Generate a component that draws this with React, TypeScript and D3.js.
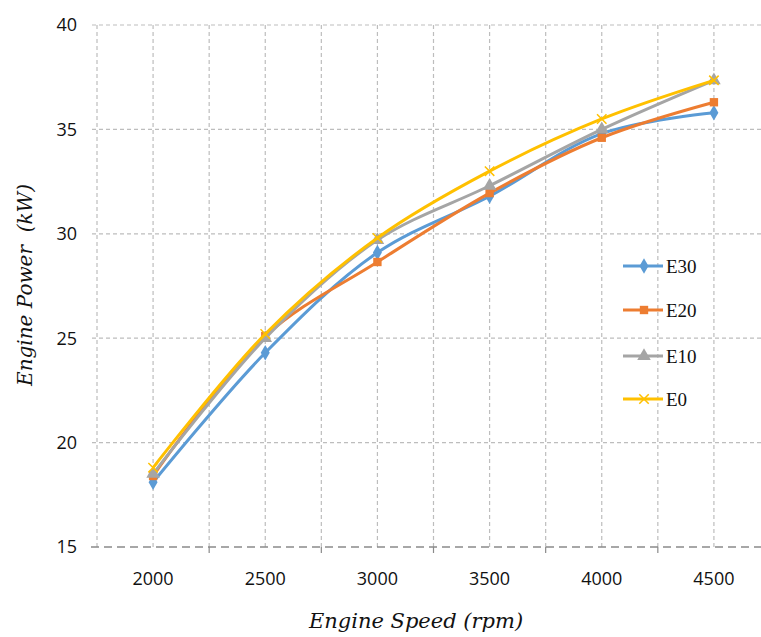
import React, { useEffect, useRef } from 'react'
import * as d3 from 'd3'

// engine speed categories (rpm)
const speeds = ['2000', '2500', '3000', '3500', '4000', '4500']
const yTicks = [15, 20, 25, 30, 35, 40]

// engine power (kW) per fuel blend
const e30 = [18.1, 24.3, 29.1, 31.8, 34.8, 35.8]
const e20 = [18.4, 25.1, 28.65, 31.95, 34.6, 36.3]
const e10 = [18.5, 25.0, 29.7, 32.3, 35.0, 37.35]
const e0 = [18.8, 25.2, 29.8, 33.0, 35.5, 37.35]

const seriesNames = ['E30', 'E20', 'E10', 'E0']
const seriesValues = [e30, e20, e10, e0]
const colors = ['#5B9BD5', '#ED7D31', '#A5A5A5', '#FFC000']
const shapes = [d3.symbolDiamond, d3.symbolSquare, d3.symbolTriangle, d3.symbolTimes]

export default function App() {
  const ref = useRef<SVGSVGElement>(null)

  useEffect(() => {
    const W = 761, H = 637
    const left = 97, right = 770, top = 25, bottom = 547
    const svg = d3.select(ref.current)
    svg.selectAll('*').remove()
    svg.attr('width', W).attr('height', H)

    const x = d3.scaleBand().domain(speeds).range([left, right]).padding(0)
    const bw = x.bandwidth()
    const cx = (s: string) => (x(s) as number) + bw / 2
    const y = d3.scaleLinear().domain([15, 40]).range([bottom, top])

    svg.append('rect').attr('width', W).attr('height', H).attr('fill', '#fff')

    // vertical grid: band edges and band centers
    const vx: number[] = []
    speeds.forEach(s => { vx.push(x(s) as number); vx.push(cx(s)) })
    svg.append('g').selectAll('line').data(vx).enter().append('line')
      .attr('x1', d => d).attr('x2', d => d)
      .attr('y1', top).attr('y2', bottom)
      .attr('stroke', '#bdbdbd').attr('stroke-width', 1.2)
      .attr('stroke-dasharray', '4,3')

    // horizontal grid
    svg.append('g').selectAll('line').data(yTicks.filter(t => t > 15)).enter().append('line')
      .attr('x1', left - 5).attr('x2', W)
      .attr('y1', d => y(d)).attr('y2', d => y(d))
      .attr('stroke', '#bdbdbd').attr('stroke-width', 1.2)
      .attr('stroke-dasharray', '4,3')

    // bottom axis line
    svg.append('line')
      .attr('x1', left - 6).attr('x2', W)
      .attr('y1', bottom).attr('y2', bottom)
      .attr('stroke', '#8a8a8a').attr('stroke-width', 1.6)
      .attr('stroke-dasharray', '8,5')
    svg.append('g').selectAll('line').data(speeds.slice(1)).enter().append('line')
      .attr('x1', d => x(d) as number).attr('x2', d => x(d) as number)
      .attr('y1', bottom).attr('y2', bottom + 6)
      .attr('stroke', '#8a8a8a').attr('stroke-width', 1.2)

    // tick labels
    svg.append('g').selectAll('text').data(yTicks).enter().append('text')
      .attr('x', 77).attr('y', d => y(d)).attr('dy', '0.35em')
      .attr('text-anchor', 'end')
      .attr('font-family', '"Open Sans", sans-serif').attr('font-size', 18)
      .attr('fill', '#111')
      .text(d => d)
    svg.append('g').selectAll('text').data(speeds).enter().append('text')
      .attr('x', d => cx(d)).attr('y', 585)
      .attr('text-anchor', 'middle')
      .attr('font-family', '"Open Sans", sans-serif').attr('font-size', 18)
      .attr('fill', '#111')
      .text(d => d)

    // axis titles
    svg.append('text')
      .attr('x', 416).attr('y', 628).attr('text-anchor', 'middle')
      .attr('font-family', '"DejaVu Serif", serif').attr('font-style', 'italic')
      .attr('font-size', 21).attr('fill', '#111')
      .text('Engine Speed (rpm)')
    svg.append('text')
      .attr('transform', 'translate(32,285) rotate(-90)').attr('text-anchor', 'middle')
      .attr('font-family', '"DejaVu Serif", serif').attr('font-style', 'italic')
      .attr('font-size', 20).attr('fill', '#111')
      .style('white-space', 'pre')
      .text('Engine Power  (kW)')

    const line = d3.line<number>()
      .x((_, i) => cx(speeds[i]))
      .y(d => y(d))
      .curve(d3.curveCatmullRom.alpha(0.5))

    const sym = (i: number) => d3.symbol().type(shapes[i]).size(i === 3 ? 60 : i === 2 ? 80 : 70)()

    seriesValues.forEach((vals, i) => {
      const g = svg.append('g')
      g.append('path').attr('d', line(vals))
        .attr('fill', 'none').attr('stroke', colors[i]).attr('stroke-width', 3)
      g.selectAll('path.m').data(vals).enter().append('path')
        .attr('class', 'm')
        .attr('transform', (d, j) => `translate(${cx(speeds[j])},${y(d)})`)
        .attr('d', sym(i))
        .attr('fill', i === 3 ? 'none' : colors[i])
        .attr('stroke', colors[i]).attr('stroke-width', i === 3 ? 1.5 : 0)
    })

    // legend
    const legY = [266, 310, 356, 399]
    seriesNames.forEach((name, i) => {
      const g = svg.append('g')
      g.append('line').attr('x1', 623).attr('x2', 663)
        .attr('y1', legY[i]).attr('y2', legY[i])
        .attr('stroke', colors[i]).attr('stroke-width', 3)
      g.append('path').attr('transform', `translate(644,${legY[i]})`)
        .attr('d', sym(i))
        .attr('fill', i === 3 ? 'none' : colors[i])
        .attr('stroke', colors[i]).attr('stroke-width', i === 3 ? 1.5 : 0)
      g.append('text').attr('x', 666).attr('y', legY[i]).attr('dy', '0.35em')
        .attr('font-family', '"Liberation Serif", serif').attr('font-size', 19)
        .attr('fill', '#111')
        .text(name)
    })
  }, [])

  return <svg ref={ref} style={{ position: 'absolute', left: 0, top: 0 }}></svg>
}
